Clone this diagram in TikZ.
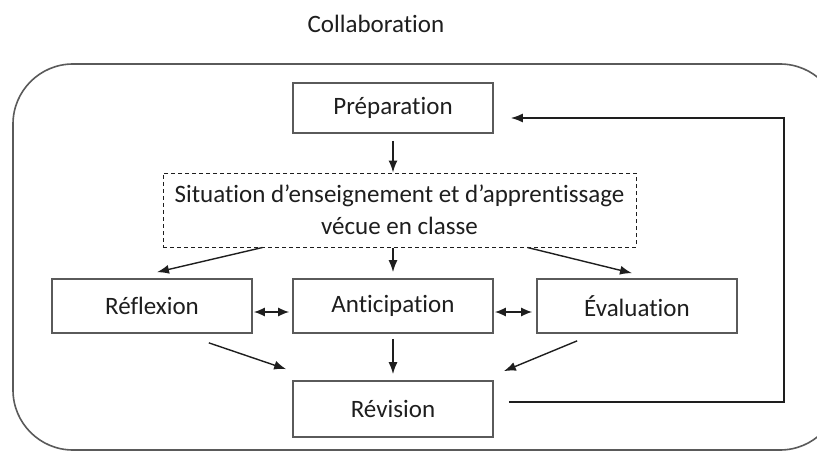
\documentclass[tikz,border=0pt]{standalone}
\usepackage{fontspec}
\setmainfont{Carlito}[Ligatures=NoCommon]
\usepackage{tikz}
\usetikzlibrary{arrows.meta}
\definecolor{boxgray}{HTML}{5A5A5A}
\definecolor{inkgray}{HTML}{1E1E1E}
\tikzset{
  stepnode/.style = {align=center, inner sep=0pt, text centered,
    font=\fontsize{25}{32}\selectfont, text=inkgray},
  stepbox/.style = {stepnode, rectangle, draw=boxgray, line width=1.7pt,
    minimum width=200pt, minimum height=54pt},% etape du cycle
  sitbox/.style = {stepnode, rectangle, draw=inkgray, line width=1pt,
    dash pattern=on 4pt off 3pt, minimum width=473pt, minimum height=74pt},% situation en classe
  frame/.style = {draw=boxgray, line width=1.6pt, rounded corners=60pt},
  arr/.style = {draw=inkgray, line width=1.4pt, -{Latex[length=12pt,width=9pt]}},
  dblarr/.style = {draw=inkgray, line width=1.4pt,
    {Latex[length=11pt,width=9pt]}-{Latex[length=11pt,width=9pt]}}
}

\begin{document}
\begin{tikzpicture}[x=1pt, y=-1pt]
		\clip (0,0) rectangle (817,452);
		\fill[white] (0,0) rectangle (817,452);
		% cadre
		\draw[frame] (13,64) rectangle (840,450);
		\node [stepnode] (title) at (376,24) {Collaboration};
		% etapes
		\node [stepbox, minimum height=50pt] (prep) at (393,108) {Préparation};
		\node [sitbox] (sit) at (399.5,210) {Situation d’enseignement et d’apprentissage\\vécue en classe};
		\node [stepbox] (refl) at (152,306) {Réflexion};
		\node [stepbox] (anti) at (393,306) {Anticipation};
		\node [stepbox] (eval) at (637,306) {Évaluation};
		\node [stepbox, minimum height=56pt] (rev) at (393,409) {Révision};
		\coordinate (loop) at (784,260);
		% liens
		\draw [arr, shorten <=7pt] (prep.south) -- (prep.south |- sit.north);
		\draw [arr] ([xshift=100pt]sit.south west) -- ([xshift=5pt,yshift=6pt]refl.north);
		\draw [arr, shorten >=6pt] (anti.north |- sit.south) -- (anti.north);
		\draw [arr] ([xshift=-109pt]sit.south east) -- ([xshift=-5pt,yshift=5pt]eval.north);
		\draw [dblarr, shorten <=1pt, shorten >=3pt] ([yshift=-6pt]refl.east) -- ([yshift=-6pt]anti.west);
		\draw [dblarr, shorten <=1pt, shorten >=4pt] ([yshift=-6pt]anti.east) -- ([yshift=-6pt]eval.west);
		\draw [arr] ([xshift=-44pt,yshift=-9pt]refl.south east) -- ([xshift=-6pt,yshift=11pt]rev.north west);
		\draw [arr, shorten <=5pt, shorten >=6pt] (anti.south) -- (rev.north);
		\draw [arr] ([xshift=41pt,yshift=-7pt]eval.south west) -- ([xshift=10pt,yshift=9pt]rev.north east);
		\draw [arr] ([xshift=15pt,yshift=7pt]rev.east) -| (loop) |- ([xshift=17pt,yshift=-10pt]prep.east);
	\end{tikzpicture}
\end{document}
